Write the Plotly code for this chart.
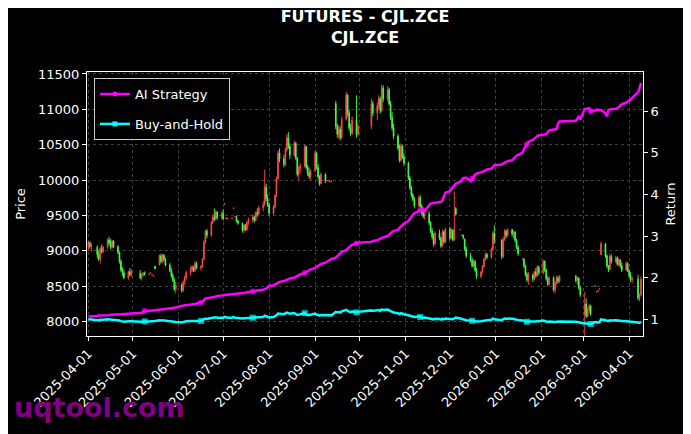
import pandas as pd
import plotly.graph_objects as go

# exchange holidays inside the plotted window (trading days = business days minus these)
holidays = ["2025-04-04", "2025-05-01", "2025-05-02", "2025-05-05", "2025-06-02",
            "2025-10-01", "2025-10-02", "2025-10-03", "2025-10-06", "2025-10-07", "2025-10-08",
            "2026-01-01", "2026-01-02",
            "2026-02-16", "2026-02-17", "2026-02-18", "2026-02-19", "2026-02-20", "2026-02-23",
            "2026-04-06"]
dates = pd.bdate_range("2025-04-01", "2026-04-09", freq="C", holidays=holidays)

opens = [
    # 2025-04
    9050, 9120, 9060, 9050, 8950, 8880, 9030, 8990, 9050, 9150, 9110, 9050, 9140, 9060, 8980, 8850, 8730, 8690, 8620, 8700, 8660,
    # 2025-05
    8680, 8620, 8660, 8690, 8670, 8690, 8660, 8640, 8780, 8800, 8930, 8850, 8940, 8880, 8800, 8720, 8650, 8580, 8460,
    # 2025-06
    8520, 8440, 8560, 8620, 8690, 8740, 8770, 8720, 8820, 8760, 8780, 8880, 9120, 9280, 9220, 9400, 9480, 9450, 9550, 9470,
    # 2025-07
    9530, 9660, 9460, 9450, 9460, 9600, 9480, 9470, 9420, 9390, 9290, 9360, 9300, 9400, 9440, 9480, 9430, 9540, 9520, 9610, 9650, 9900, 9740,
    # 2025-08
    9650, 9530, 9620, 9780, 10020, 10380, 10300, 10220, 10430, 10600, 10480, 10350, 10520, 10310, 10080, 10160, 10200, 10470, 10180, 10100, 10050,
    # 2025-09
    10130, 10380, 10180, 10050, 9950, 10080, 9990, 9990, 9975, 9985, 11080, 10760, 10650, 10720, 10600, 10860, 11200, 10950, 10740, 10660, 10850, 10650,
    # 2025-10
    10760, 11080, 10950, 11050, 11150, 10980, 11300, 11150, 11280, 11080, 10880, 10740, 10620, 10450, 10280, 10480, 10330,
    # 2025-11
    10240, 10030, 9890, 9790, 9730, 9640, 9750, 9630, 9540, 9490, 9520, 9400, 9280, 9200, 9100, 9250, 9180, 9070, 9270, 9130,
    # 2025-12
    9310, 9180, 9290, 9160, 9600, 9300, 9220, 9220, 9160, 9030, 8930, 8870, 8790, 8850, 8730, 8640, 8700, 8780, 8880, 8950, 8910, 9020, 9250,
    # 2026-01
    9150, 8920, 9160, 9280, 9220, 9300, 9240, 9260, 9150, 9050, 8880, 8880, 8790, 8670, 8590, 8660, 8600, 8700, 8650, 8770,
    # 2026-02
    8690, 8850, 8730, 8610, 8530, 8620, 8450, 8540, 8620, 8570, 8640, 8580, 8610, 8480,
    # 2026-03
    8100, 8250, 8080, 8160, 8220, 8500, 8420, 8430, 8460, 8950, 9100, 8930, 8790, 8740, 8920, 8850, 8900, 8810, 8870, 8790, 8730, 8820,
    # 2026-04
    8720, 8650, 8590, 8600, 8330, 8380,
]
highs = [
    9140, 9130, 9110, 9080, 9010, 9060, 9090, 9070, 9180, 9200, 9170, 9160, 9150, 9080, 8990, 8880, 8770, 8740, 8720, 8760, 8740,
    8730, 8690, 8700, 8710, 8680, 8700, 8670, 8650, 8790, 8950, 8960, 8960, 8950, 8900, 8830, 8760, 8690, 8620, 8560,
    8540, 8580, 8650, 8720, 8780, 8800, 8790, 8860, 8850, 8800, 8900, 9150, 9300, 9310, 9420, 9520, 9600, 9580, 9560, 9560,
    9590, 9670, 9470, 9460, 9470, 9610, 9490, 9500, 9440, 9400, 9380, 9380, 9420, 9470, 9520, 9500, 9560, 9600, 9640, 9700, 10150, 9950, 9800,
    9680, 9650, 9800, 10050, 10420, 10450, 10360, 10460, 10650, 10680, 10520, 10560, 10540, 10330, 10200, 10240, 10500, 10490, 10220, 10180, 10150,
    10420, 10400, 10230, 10070, 10110, 10100, 10000, 10000, 9985, 9995, 11120, 10800, 10780, 10760, 10900, 11250, 11220, 11000, 10800, 10900, 11200, 10800,
    11150, 11120, 11100, 11200, 11180, 11350, 11340, 11330, 11300, 11120, 10960, 10800, 10650, 10500, 10520, 10500, 10380,
    10260, 10060, 9920, 9820, 9760, 9780, 9790, 9660, 9600, 9560, 9560, 9420, 9320, 9250, 9280, 9300, 9200, 9300, 9290, 9330,
    9340, 9320, 9310, 9840, 9620, 9310, 9230, 9230, 9180, 9060, 8970, 8900, 8880, 8870, 8760, 8720, 8800, 8900, 8980, 8970, 9050, 9280, 9360,
    9170, 9200, 9310, 9300, 9320, 9310, 9290, 9280, 9170, 9080, 8890, 8900, 8800, 8700, 8700, 8680, 8720, 8760, 8800, 8790,
    8880, 8870, 8750, 8640, 8640, 8640, 8570, 8650, 8640, 8660, 8660, 8640, 8630, 8500,
    8420, 8330, 8200, 8250, 8240, 8510, 8430, 8440, 8470, 9130, 9110, 8950, 8800, 8960, 8950, 8930, 8920, 8900, 8880, 8830, 8850, 8840,
    8740, 8700, 8640, 8660, 8400, 8640,
]
lows = [
    9010, 9030, 8990, 8900, 8860, 8820, 8960, 8970, 9030, 9080, 9020, 9030, 9040, 8950, 8820, 8700, 8640, 8600, 8590, 8640, 8630,
    8600, 8580, 8640, 8650, 8665, 8685, 8655, 8635, 8740, 8790, 8820, 8830, 8850, 8780, 8700, 8620, 8560, 8430, 8400,
    8410, 8420, 8520, 8590, 8650, 8700, 8700, 8700, 8740, 8720, 8760, 8870, 9100, 9180, 9200, 9380, 9420, 9430, 9440, 9450,
    9430, 9655, 9455, 9445, 9455, 9595, 9475, 9400, 9370, 9260, 9250, 9280, 9280, 9360, 9400, 9400, 9420, 9480, 9500, 9560, 9640, 9700, 9620,
    9500, 9510, 9600, 9760, 10000, 10250, 10180, 10200, 10400, 10440, 10300, 10330, 10280, 10050, 10000, 10100, 10180, 10150, 10060, 10020, 10000,
    10120, 10150, 10020, 9920, 9940, 9960, 9985, 9985, 9970, 9980, 10720, 10600, 10580, 10560, 10580, 10840, 10900, 10700, 10620, 10640, 10600, 10620,
    10720, 10900, 10850, 11000, 10940, 10960, 11100, 11120, 11050, 10850, 10700, 10580, 10420, 10250, 10260, 10300, 10200,
    10000, 9860, 9760, 9700, 9600, 9620, 9600, 9500, 9460, 9440, 9360, 9250, 9160, 9060, 9080, 9150, 9040, 9060, 9100, 9110,
    9150, 9160, 9130, 9140, 9500, 9295, 9215, 9160, 9000, 8900, 8840, 8760, 8770, 8700, 8600, 8610, 8680, 8760, 8860, 8880, 8890, 9000, 9100,
    8880, 8900, 9140, 9180, 9200, 9200, 9170, 9120, 9020, 8930, 8875, 8760, 8640, 8560, 8520, 8560, 8580, 8620, 8630, 8660,
    8670, 8700, 8580, 8500, 8510, 8420, 8400, 8520, 8540, 8550, 8550, 8520, 8450, 8350,
    7750, 8050, 8060, 8120, 8080, 8495, 8415, 8425, 8455, 8940, 8900, 8760, 8700, 8720, 8820, 8830, 8790, 8780, 8760, 8700, 8720, 8700,
    8620, 8560, 8540, 8300, 8290, 8360,
]
closes = [
    9120, 9060, 9090, 8950, 8880, 9030, 8990, 9050, 9150, 9110, 9050, 9140, 9060, 8980, 8850, 8730, 8690, 8620, 8700, 8660, 8720,
    8620, 8660, 8690, 8670, 8675, 8695, 8665, 8645, 8750, 8930, 8850, 8940, 8880, 8800, 8720, 8650, 8580, 8460, 8520,
    8440, 8560, 8620, 8690, 8740, 8770, 8720, 8820, 8760, 8780, 8880, 9120, 9280, 9220, 9400, 9480, 9450, 9550, 9470, 9530,
    9450, 9665, 9465, 9455, 9465, 9605, 9485, 9420, 9390, 9290, 9360, 9300, 9400, 9440, 9480, 9430, 9540, 9520, 9610, 9650, 9900, 9740, 9650,
    9530, 9620, 9780, 10020, 10380, 10300, 10220, 10430, 10600, 10480, 10350, 10520, 10310, 10080, 10160, 10200, 10470, 10180, 10100, 10050, 10130,
    10380, 10180, 10050, 9950, 10080, 9990, 9995, 9995, 9980, 9990, 10760, 10650, 10720, 10600, 10860, 11200, 10950, 10740, 10660, 10850, 10650, 10760,
    11080, 10950, 11050, 11150, 10980, 11300, 11150, 11280, 11080, 10880, 10740, 10620, 10450, 10280, 10480, 10330, 10240,
    10030, 9890, 9790, 9730, 9640, 9750, 9630, 9540, 9490, 9520, 9400, 9280, 9200, 9100, 9250, 9180, 9070, 9270, 9130, 9310,
    9180, 9290, 9160, 9300, 9520, 9305, 9225, 9190, 9030, 8930, 8870, 8790, 8850, 8730, 8640, 8700, 8780, 8880, 8950, 8910, 9020, 9250, 9150,
    8920, 9160, 9280, 9220, 9300, 9240, 9260, 9150, 9050, 8960, 8885, 8790, 8670, 8590, 8660, 8600, 8700, 8650, 8770, 8690,
    8850, 8730, 8610, 8530, 8620, 8450, 8540, 8620, 8570, 8640, 8580, 8610, 8480, 8380,
    8250, 8080, 8160, 8220, 8110, 8505, 8425, 8435, 8465, 9100, 8930, 8790, 8740, 8920, 8850, 8900, 8810, 8870, 8790, 8730, 8820, 8720,
    8650, 8590, 8600, 8330, 8380, 8600,
]
ai_strategy = [
    1.07, 1.07, 1.08, 1.08, 1.09, 1.09, 1.09, 1.10, 1.10, 1.10, 1.11, 1.11, 1.11, 1.12, 1.12, 1.12, 1.12, 1.13, 1.13, 1.13, 1.14,
    1.15, 1.16, 1.17, 1.20, 1.20, 1.20, 1.21, 1.21, 1.22, 1.23, 1.23, 1.24, 1.24, 1.25, 1.26, 1.26, 1.27, 1.28, 1.29,
    1.32, 1.33, 1.34, 1.34, 1.35, 1.35, 1.36, 1.37, 1.38, 1.40, 1.42, 1.46, 1.50, 1.51, 1.52, 1.53, 1.54, 1.55, 1.56, 1.57,
    1.58, 1.58, 1.59, 1.59, 1.60, 1.60, 1.61, 1.61, 1.62, 1.62, 1.63, 1.64, 1.65, 1.66, 1.67, 1.68, 1.69, 1.70, 1.70, 1.71, 1.72, 1.74, 1.77,
    1.80, 1.82, 1.84, 1.86, 1.88, 1.90, 1.92, 1.94, 1.96, 1.97, 1.98, 2.00, 2.02, 2.04, 2.06, 2.08, 2.11, 2.14, 2.16, 2.18, 2.20,
    2.23, 2.26, 2.29, 2.31, 2.33, 2.36, 2.38, 2.40, 2.43, 2.45, 2.48, 2.52, 2.56, 2.59, 2.62, 2.66, 2.70, 2.74, 2.77, 2.79, 2.82, 2.84,
    2.86, 2.88, 2.90, 2.92, 2.94, 2.95, 2.97, 3.00, 3.04, 3.07, 3.10, 3.12, 3.15, 3.20, 3.23, 3.26, 3.30,
    3.36, 3.42, 3.47, 3.51, 3.55, 3.59, 3.62, 3.64, 3.66, 3.60, 3.75, 3.78, 3.79, 3.80, 3.80, 3.81, 3.82, 3.86, 3.95, 4.04,
    4.08, 4.12, 4.17, 4.22, 4.26, 4.30, 4.35, 4.39, 4.40, 4.40, 4.32, 4.38, 4.44, 4.48, 4.50, 4.52, 4.54, 4.56, 4.58, 4.60, 4.62, 4.66, 4.70,
    4.72, 4.74, 4.76, 4.78, 4.80, 4.82, 4.86, 4.90, 4.93, 4.95, 5.00, 5.08, 5.15, 5.20, 5.26, 5.31, 5.35, 5.37, 5.40, 5.42,
    5.43, 5.44, 5.45, 5.50, 5.54, 5.56, 5.56, 5.57, 5.70, 5.75, 5.77, 5.82, 5.87, 5.80,
    6.05, 6.06, 6.07, 6.07, 6.00, 6.01, 6.04, 6.03, 6.03, 6.03, 5.95, 5.87, 6.03, 6.04, 6.05, 6.06, 6.07, 6.10, 6.15, 6.17, 6.20, 6.22,
    6.25, 6.28, 6.32, 6.45, 6.55, 6.68,
]

assert len(dates) == len(opens) == len(highs) == len(lows) == len(closes) == len(ai_strategy), \
    (len(dates), len(opens), len(highs), len(lows), len(closes), len(ai_strategy))

# buy-and-hold equity is just the close relative to the first close
buy_hold = [c / closes[0] for c in closes]
# markers every 25 points like matplotlib markevery
mark_sizes = [6 if i % 25 == 24 else 0 for i in range(len(dates))]

font = "DejaVu Sans"
series = [("AI Strategy", ai_strategy, "#ff00ff", "circle"),
          ("Buy-and-Hold", buy_hold, "#00ffff", "square")]

fig = go.Figure()
fig.add_trace(go.Candlestick(
    x=dates, open=opens, high=highs, low=lows, close=closes,
    increasing=dict(line=dict(color="#ff4a4a", width=0.9), fillcolor="#ff4a4a"),
    decreasing=dict(line=dict(color="#4aff4a", width=0.9), fillcolor="#4aff4a"),
    whiskerwidth=0, showlegend=False, yaxis="y"))
for name, vals, color, symbol in series:
    fig.add_trace(go.Scatter(
        x=dates, y=vals, mode="lines+markers", name=name, yaxis="y2",
        legendgroup=name, showlegend=False,
        line=dict(color=color, width=2.5),
        marker=dict(color=color, size=mark_sizes, symbol=symbol, line=dict(width=0))))
    # legend-only entry so the legend sample shows the marker too
    fig.add_trace(go.Scatter(
        x=[None], y=[None], mode="lines+markers", name=name, yaxis="y2",
        legendgroup=name, line=dict(color=color, width=2.5),
        marker=dict(color=color, size=5, symbol=symbol, line=dict(width=0))))

axis_common = dict(showline=True, linecolor="white", linewidth=1, mirror=True,
                   ticks="outside", ticklen=4, tickcolor="white",
                   tickfont=dict(family=font, size=13, color="white"))
grid = dict(showgrid=True, gridcolor="#404040", griddash="3px,3px", gridwidth=0.7)

# the page body adds an 8px offset, so the figure is sized 8px smaller than the window
fig.update_layout(
    width=683, height=426,
    paper_bgcolor="black", plot_bgcolor="black",
    margin=dict(l=77, r=48, t=64, b=98),
    font=dict(family=font, color="white", size=13),
    title=dict(text="<b>FUTURES - CJL.ZCE</b><br><b>CJL.ZCE</b>",
               x=0.5, xref="paper", xanchor="center",
               y=0.966, yref="container", yanchor="top",
               font=dict(family=font, size=16, color="white")),
    xaxis=dict(axis_common, **grid, type="date",
               range=["2025-03-31 02:00", "2026-04-10 08:00"],
               tick0="2025-04-01", dtick="M1", tickformat="%Y-%m-%d", tickangle=-45,
               rangeslider=dict(visible=False)),
    yaxis=dict(axis_common, **grid, range=[7797, 11528], dtick=500, tick0=8000,
               tickformat="d", zeroline=False,
               title=dict(text="Price", font=dict(family=font, size=13, color="white"), standoff=9)),
    yaxis2=dict(axis_common, overlaying="y", side="right", range=[0.60, 6.94], dtick=1,
                showgrid=False, zeroline=False,
                title=dict(text="Return", font=dict(family=font, size=13, color="white"), standoff=8)),
    legend=dict(x=0.0125, y=0.977, xanchor="left", yanchor="top",
                bgcolor="black", bordercolor="#cccccc", borderwidth=1,
                font=dict(family=font, size=13, color="white")),
    annotations=[dict(text="<b>uqtool.com</b>", xref="paper", yref="paper",
                      x=(10 - 85) / 558, y=(336 - 407) / 264, xanchor="left", yanchor="middle",
                      showarrow=False, font=dict(family=font, size=27, color="#800080"))],
)

fig.write_html("out.html")
